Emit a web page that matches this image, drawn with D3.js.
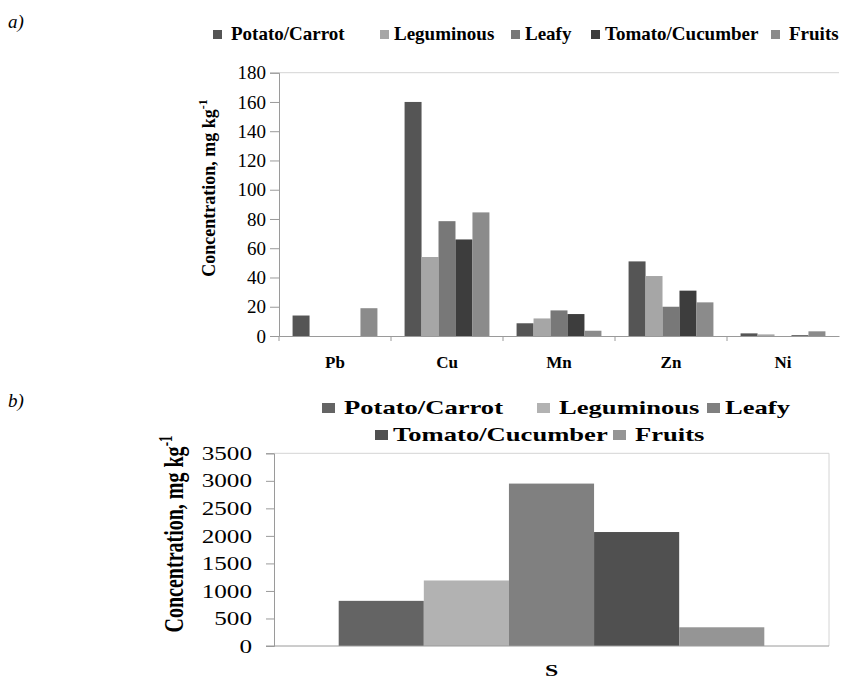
<!DOCTYPE html>
<html>
<head>
<meta charset="utf-8">
<script src="https://cdn.jsdelivr.net/npm/d3@7"></script>
<style>
  body { margin: 0; background: #fff; }
  svg { display: block; }
  text { font-family: "Liberation Serif", "Times New Roman", Times, serif; fill: #000; }
</style>
</head>
<body>
<div class="canvas"></div>
<script>
// ---- data ----
const series = ['Potato/Carrot', 'Leguminous', 'Leafy', 'Tomato/Cucumber', 'Fruits'];
const metals = ['Pb', 'Cu', 'Mn', 'Zn', 'Ni'];
// panel a) values per metal, one row per vegetable group
const potatoA  = [14, 160, 8.7, 51, 1.8];
const legumA   = [0, 54, 12, 41, 1.1];
const leafyA   = [0, 78.5, 17.5, 20, 0];
const tomatoA  = [0, 66, 15, 31, 0.5];
const fruitsA  = [19, 84.5, 3.6, 23, 3.2];
const yTicksA  = [0, 20, 40, 60, 80, 100, 120, 140, 160, 180];
// panel b) sulphur
const elementB = ['S'];
const valuesB  = [820, 1190, 2950, 2070, 340];
const yTicksB  = [0, 500, 1000, 1500, 2000, 2500, 3000, 3500];

const colorsA = ['#555555', '#a6a6a6', '#787878', '#3d3d3d', '#8b8b8b'];
const colorsB = ['#646464', '#b2b2b2', '#808080', '#505050', '#959595'];

const W = 843, H = 682;
const svg = d3.select('.canvas').append('svg').attr('width', W).attr('height', H);

// panel labels
svg.append('text').attr('x', 8).attr('y', 28).attr('font-size', 19).attr('font-style', 'italic').text('a)');
svg.append('text').attr('x', 8).attr('y', 407).attr('font-size', 19).attr('font-style', 'italic').text('b)');

/////////////////// panel a ///////////////////
const rowsA = [potatoA, legumA, leafyA, tomatoA, fruitsA];
const dataA = metals.map((m, i) => ({ metal: m, vals: series.map((s, j) => ({ s, v: rowsA[j][i], j })) }));

const xA = d3.scaleBand().domain(metals).range([279, 839]);
const xInA = d3.scaleBand().domain(series).range([0, xA.bandwidth()]).paddingOuter(0.8);
const yA = d3.scaleLinear().domain([0, 180]).range([336, 72.7]);

const gA = svg.append('g');

// top grid line
gA.append('line').attr('x1', 279).attr('x2', 839).attr('y1', yA(180)).attr('y2', yA(180))
  .attr('stroke', '#d4d4d4');

gA.selectAll('g.cat').data(dataA).join('g')
  .attr('class', 'cat')
  .attr('transform', d => `translate(${xA(d.metal)},0)`)
  .selectAll('rect').data(d => d.vals).join('rect')
  .attr('x', d => xInA(d.s))
  .attr('width', xInA.bandwidth())
  .attr('y', d => yA(d.v))
  .attr('height', d => yA(0) - yA(d.v))
  .attr('fill', d => colorsA[d.j]);

// y axis
const yAxA = gA.append('g').attr('transform', 'translate(279,0)')
  .call(d3.axisLeft(yA).tickValues(yTicksA).tickSize(9).tickPadding(4).tickFormat(d3.format('d')));
yAxA.select('.domain').attr('stroke', '#9a9a9a');
yAxA.selectAll('.tick line').attr('stroke', '#9a9a9a');
yAxA.selectAll('.tick text').attr('font-size', 19);

// x axis
const xAxA = gA.append('g').attr('transform', 'translate(0,336)')
  .call(d3.axisBottom(xA).tickSize(0).tickPadding(20));
xAxA.select('.domain').attr('stroke', '#9a9a9a');
xAxA.selectAll('.tick text').attr('font-size', 17).attr('font-weight', 'bold');
gA.selectAll('line.bound').data(metals).join('line')
  .attr('class', 'bound')
  .attr('x1', d => xA(d)).attr('x2', d => xA(d))
  .attr('y1', 336).attr('y2', 341).attr('stroke', '#9a9a9a');

// y label
const labA = gA.append('text').attr('transform', 'translate(215,188) rotate(-90)')
  .attr('text-anchor', 'middle').attr('font-size', 18).attr('font-weight', 'bold');
labA.append('tspan').text('Concentration, mg kg');
labA.append('tspan').attr('dy', -8).attr('font-size', 12).text('-1');

// legend a
const legAx = [213, 380, 511, 591, 771];
const legA = gA.selectAll('g.leg').data(series).join('g')
  .attr('class', 'leg')
  .attr('transform', (d, i) => `translate(${legAx[i]},30)`);
legA.append('rect').attr('width', 9).attr('height', 9).attr('fill', (d, i) => colorsA[i]);
legA.append('text').attr('x', (d, i) => i === 1 || i === 2 || i === 3 ? 14 : 18).attr('y', 10)
  .attr('font-size', 19).attr('font-weight', 'bold').text(d => d);

/////////////////// panel b ///////////////////
const SX = 1.4; // panel b is stretched horizontally
const xB = d3.scaleBand().domain(elementB).range([274, 829]);
const xInB = d3.scaleBand().domain(series).range([0, xB.bandwidth()]).paddingOuter(0.76);
const yB = d3.scaleLinear().domain([0, 3500]).range([646, 453.3]);

const gB = svg.append('g');

// frame: top + right
gB.append('path')
  .attr('d', `M274,${yB(3500)}H829V${yB(0)}`)
  .attr('fill', 'none').attr('stroke', '#d4d4d4');

gB.selectAll('rect.bar').data(valuesB).join('rect')
  .attr('class', 'bar')
  .attr('x', (d, i) => xB('S') + xInB(series[i]))
  .attr('width', xInB.bandwidth())
  .attr('y', d => yB(d))
  .attr('height', d => yB(0) - yB(d))
  .attr('fill', (d, i) => colorsB[i]);

const yAxB = gB.append('g').attr('transform', 'translate(274,0)')
  .call(d3.axisLeft(yB).tickValues(yTicksB).tickSize(8).tickFormat(d3.format('d')));
yAxB.select('.domain').attr('stroke', '#9a9a9a');
yAxB.selectAll('.tick line').attr('stroke', '#9a9a9a');
yAxB.selectAll('.tick text')
  .attr('font-size', 18)
  .attr('x', -22 / SX).attr('dy', '0.34em')
  .attr('transform', `scale(${SX},1)`);

gB.append('line').attr('x1', 266).attr('x2', 829).attr('y1', yB(0)).attr('y2', yB(0))
  .attr('stroke', '#9a9a9a');

gB.selectAll('text.cat').data(elementB).join('text')
  .attr('class', 'cat')
  .attr('transform', d => `translate(${xB(d) + xB.bandwidth() / 2},676) scale(${SX},1)`)
  .attr('text-anchor', 'middle').attr('font-size', 17).attr('font-weight', 'bold').text(d => d);

const labB = gB.append('text').attr('transform', `translate(183,534) scale(${SX},1) rotate(-90)`)
  .attr('text-anchor', 'middle').attr('font-size', 20).attr('font-weight', 'bold');
labB.append('tspan').text('Concentration, mg kg');
labB.append('tspan').attr('dy', -8).attr('font-size', 13).text('-1');

// legend b, two rows
const legBpos = [[322, 403], [537, 403], [707, 403], [375, 430], [613, 430]];
const legB = gB.selectAll('g.leg').data(series).join('g')
  .attr('class', 'leg')
  .attr('transform', (d, i) => `translate(${legBpos[i][0]},${legBpos[i][1]})`);
legB.append('rect').attr('width', 13).attr('height', 10).attr('fill', (d, i) => colorsB[i]);
legB.append('text')
  .attr('transform', (d, i) => `translate(${i === 2 || i === 3 ? 18 : 22},10.5) scale(${SX},1)`)
  .attr('font-size', 19).attr('font-weight', 'bold').text(d => d);
</script>
</body>
</html>
